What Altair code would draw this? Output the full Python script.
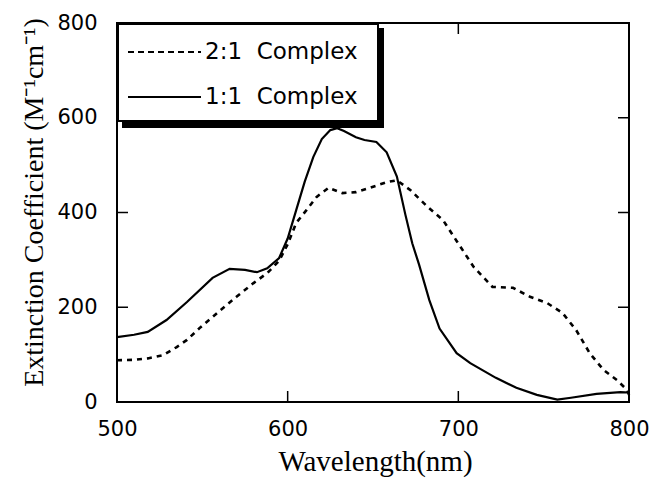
import altair as alt
import pandas as pd

# 1:1 Complex (solid)
wl_11 = [500, 510, 518, 529, 541, 556, 566, 575, 582, 588, 595, 600, 605, 610, 615, 620, 625, 629, 633, 640, 645, 652, 658, 664, 669, 673, 677, 683, 689, 699, 707, 722, 734, 746, 758, 766, 781, 795, 800]
ec_11 = [137, 142, 148, 173, 211, 262, 281, 279, 274, 282, 304, 345, 405, 465, 517, 555, 574, 578, 572, 559, 553, 549, 527, 476, 395, 335, 290, 215, 155, 103, 82, 51, 30, 15, 5, 9, 17, 21, 20]

# 2:1 Complex (dashed)
wl_21 = [500, 510, 518, 527, 535, 541, 549, 560, 570, 580, 588, 595, 600, 605, 611, 617, 624, 632, 640, 648, 658, 664, 672, 682, 691, 699, 709, 720, 732, 742, 752, 761, 769, 777, 785, 793, 799, 800]
ec_21 = [88, 89, 92, 99, 116, 131, 158, 192, 222, 251, 272, 298, 333, 378, 405, 433, 452, 441, 443, 452, 464, 468, 447, 412, 384, 340, 285, 243, 241, 222, 209, 188, 152, 103, 68, 46, 25, 15]

x_ticks = [600, 700]
y_ticks = [200, 400, 600]
legend_labels = ["2:1\u00a0 Complex", "1:1\u00a0 Complex"]

W, H = 512, 379
SANS = "DejaVu Sans"
SERIF = "Liberation Serif"

df11 = pd.DataFrame({"wl": wl_11, "ec": ec_11})
df21 = pd.DataFrame({"wl": wl_21, "ec": ec_21})
dfxt = pd.DataFrame({"t": x_ticks})
dfyt = pd.DataFrame({"t": y_ticks})
one = pd.DataFrame({"a": [0]})

xscale = alt.Scale(domain=[500, 800], nice=False, zero=False)
yscale = alt.Scale(domain=[0, 800], nice=False)

xaxis = alt.Axis(values=[500, 600, 700, 800], format="d", tickSize=0, domain=False, grid=False,
                 labelFont=SANS, labelFontSize=21, labelColor="black", labelPadding=16,
                 title="Wavelength(nm)", titleFont=SERIF, titleFontSize=29, titleFontWeight="normal",
                 titleColor="black", titleX=W / 2 + 2, titleY=68, titleBaseline="alphabetic",
                 labelFlush=False)
yaxis = alt.Axis(values=[0, 200, 400, 600, 800], format="d", tickSize=0, domain=False, grid=False,
                 labelFont=SANS, labelFontSize=21, labelColor="black", labelPadding=20,
                 title="Extinction Coefficient (M⁻¹cm⁻¹)", titleFont=SERIF, titleFontSize=28,
                 titleFontWeight="normal", titleColor="black", titleX=-75, titleY=179,
                 titleAngle=-90, titleAlign="center", titleBaseline="alphabetic", labelFlush=False)

line11 = alt.Chart(df11).mark_line(color="black", strokeWidth=2.2).encode(
    x=alt.X("wl:Q", scale=xscale, axis=xaxis),
    y=alt.Y("ec:Q", scale=yscale, axis=yaxis),
)
line21 = alt.Chart(df21).mark_line(color="black", strokeWidth=2.6, strokeDash=[5, 5]).encode(
    x=alt.X("wl:Q", scale=xscale),
    y=alt.Y("ec:Q", scale=yscale),
)

xt_bot = alt.Chart(dfxt).mark_rule(color="black", strokeWidth=1.5).encode(
    x=alt.X("t:Q", scale=xscale), y=alt.value(H), y2=alt.value(H - 11))
xt_top = alt.Chart(dfxt).mark_rule(color="black", strokeWidth=1.5).encode(
    x=alt.X("t:Q", scale=xscale), y=alt.value(0), y2=alt.value(11))
yt_left = alt.Chart(dfyt).mark_rule(color="black", strokeWidth=1.5).encode(
    y=alt.Y("t:Q", scale=yscale), x=alt.value(0), x2=alt.value(11))
yt_right = alt.Chart(dfyt).mark_rule(color="black", strokeWidth=1.5).encode(
    y=alt.Y("t:Q", scale=yscale), x=alt.value(W), x2=alt.value(W - 11))

# legend box with shadow
shadow = alt.Chart(one).mark_rect(fill="black").encode(
    x=alt.value(5), x2=alt.value(267), y=alt.value(5), y2=alt.value(105))
box = alt.Chart(one).mark_rect(fill="white", stroke="black", strokeWidth=2).encode(
    x=alt.value(1), x2=alt.value(261), y=alt.value(1), y2=alt.value(98))
leg_dash = alt.Chart(one).mark_rule(color="black", strokeWidth=2, strokeDash=[6, 4]).encode(
    x=alt.value(11), x2=alt.value(84), y=alt.value(29))
leg_solid = alt.Chart(one).mark_rule(color="black", strokeWidth=2).encode(
    x=alt.value(11), x2=alt.value(84), y=alt.value(74))
leg_t1 = alt.Chart(one).mark_text(text=legend_labels[0], font=SANS, fontSize=23, align="left",
                                  baseline="middle", color="black").encode(x=alt.value(88), y=alt.value(29))
leg_t2 = alt.Chart(one).mark_text(text=legend_labels[1], font=SANS, fontSize=23, align="left",
                                  baseline="middle", color="black").encode(x=alt.value(88), y=alt.value(74))

chart = alt.layer(
    line21, line11, xt_bot, xt_top, yt_left, yt_right,
    shadow, box, leg_dash, leg_solid, leg_t1, leg_t2
).properties(
    width=W, height=H,
    autosize=alt.AutoSizeParams(type="none"),
    padding={"left": 117, "top": 23, "right": 30, "bottom": 76},
    background="white",
).configure_view(stroke="black", strokeWidth=2)

chart.save("out.html", embed_options={"renderer": "svg", "actions": False})
